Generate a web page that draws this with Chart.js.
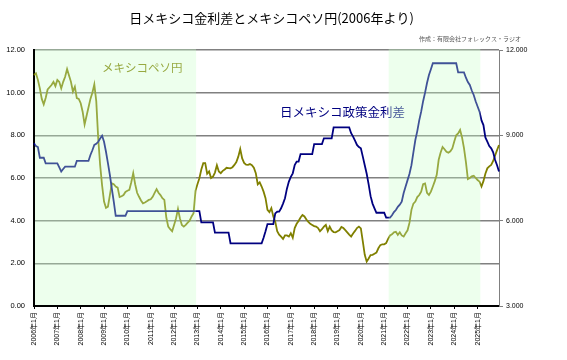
<!DOCTYPE html>
<html><head><meta charset="utf-8">
<script src="https://cdn.jsdelivr.net/npm/chart.js@4"></script>
<style>html,body{margin:0;padding:0;background:#fff}#wrap{width:567px;height:360px}</style>
</head><body><div id="wrap"><canvas id="c" width="567" height="360"></canvas></div>
<script>
const years = [2006,2007,2008,2009,2010,2011,2012,2013,2014,2015,2016,2017,2018,2019,2020,2021,2022,2023,2024,2025];

// 日メキシコ政策金利差 (%), left axis, monthly from 2006年1月
const rateDiff = [
  7.63,7.5,7.45,6.95,6.95,6.95,6.69,6.69,6.69,6.69,6.69,6.69,
  6.69,6.5,6.3,6.42,6.53,6.53,6.53,6.53,6.53,6.53,6.8,6.8,
  6.8,6.8,6.8,6.8,6.8,7.08,7.3,7.55,7.6,7.7,7.85,7.98,
  7.7,7.23,6.7,6.14,5.5,4.89,4.23,4.23,4.23,4.23,4.23,4.23,
  4.45,4.45,4.45,4.45,4.45,4.45,4.45,4.45,4.45,4.45,4.45,4.45,
  4.45,4.45,4.45,4.45,4.45,4.45,4.45,4.45,4.45,4.45,4.45,4.45,
  4.45,4.45,4.45,4.45,4.45,4.45,4.45,4.45,4.45,4.45,4.45,4.45,
  4.45,4.45,3.92,3.92,3.92,3.92,3.92,3.92,3.92,3.44,3.44,3.44,
  3.44,3.44,3.44,3.44,3.44,2.94,2.94,2.94,2.94,2.94,2.94,2.94,
  2.94,2.94,2.94,2.94,2.94,2.94,2.94,2.94,2.94,2.94,3.2,3.5,
  3.84,3.84,3.84,3.84,4.34,4.42,4.42,4.58,4.8,5.05,5.5,5.83,
  6.05,6.22,6.61,6.77,6.77,7.12,7.12,7.12,7.12,7.12,7.12,7.12,
  7.59,7.59,7.59,7.59,7.59,7.86,7.86,7.86,7.86,7.86,8.37,8.37,
  8.37,8.37,8.37,8.37,8.37,8.37,8.37,8.1,7.94,7.75,7.55,7.45,
  7.39,7.0,6.6,6.2,5.7,5.15,4.8,4.58,4.37,4.37,4.37,4.37,
  4.37,4.14,4.14,4.14,4.25,4.4,4.5,4.65,4.75,4.89,5.3,5.6,
  5.9,6.2,6.6,7.2,7.78,8.2,8.7,9.11,9.6,10.0,10.45,10.83,
  11.1,11.38,11.38,11.38,11.38,11.38,11.38,11.38,11.38,11.38,11.38,11.38,
  11.38,11.38,10.95,10.95,10.95,10.95,10.7,10.5,10.36,10.1,9.89,9.6,
  9.35,9.11,8.7,8.48,7.9,7.7,7.5,7.39,7.2,6.84,6.6,6.3
];

// メキシコペソ円 (円), right axis, monthly from 2006年1月
const pesoYen = [
  11.12,11.18,10.95,10.65,10.28,10.09,10.31,10.61,10.69,10.77,10.88,10.73,
  10.95,10.88,10.65,10.88,11.06,11.33,11.10,10.88,10.54,10.71,10.31,10.28,
  10.13,9.83,9.38,9.68,9.98,10.28,10.50,10.79,10.20,8.90,7.95,7.24,
  6.67,6.45,6.49,6.90,7.31,7.28,7.20,7.16,6.83,6.86,6.90,7.01,
  7.05,7.08,7.35,7.67,7.28,6.98,6.84,6.71,6.61,6.64,6.68,6.73,
  6.75,6.84,6.98,7.11,6.98,6.90,6.79,6.73,6.11,5.79,5.70,5.63,
  5.85,6.08,6.41,6.08,5.85,5.79,5.85,5.93,6.00,6.15,6.26,7.05,
  7.28,7.49,7.80,8.02,8.02,7.65,7.73,7.50,7.55,7.69,7.95,7.73,
  7.67,7.75,7.80,7.86,7.85,7.84,7.88,7.96,8.06,8.25,8.52,8.19,
  8.03,7.97,7.96,7.99,7.95,7.86,7.67,7.28,7.35,7.20,7.02,6.79,
  6.38,6.30,6.44,6.15,5.96,5.63,5.51,5.44,5.36,5.48,5.48,5.44,
  5.56,5.40,5.74,5.89,5.99,6.11,6.20,6.15,6.04,5.96,5.89,5.85,
  5.81,5.79,5.74,5.63,5.70,5.79,5.85,5.63,5.79,5.66,5.60,5.59,
  5.63,5.67,5.78,5.74,5.67,5.59,5.51,5.44,5.55,5.64,5.74,5.79,
  5.73,5.27,4.80,4.56,4.67,4.79,4.80,4.84,4.88,5.03,5.14,5.17,
  5.17,5.21,5.36,5.48,5.52,5.59,5.61,5.50,5.59,5.48,5.44,5.56,
  5.66,5.93,6.38,6.60,6.67,6.83,6.90,7.02,7.28,7.31,6.98,6.90,
  7.02,7.20,7.39,7.61,8.14,8.40,8.59,8.51,8.42,8.39,8.44,8.54,
  8.78,9.00,9.07,9.19,8.93,8.55,8.06,7.46,7.50,7.56,7.58,7.50,
  7.43,7.37,7.20,7.39,7.65,7.84,7.91,7.96,8.10,8.29,8.48,8.66
];

// shaded periods, as month-index ranges on the category axis
const shadeRanges = [[0, 83.3], [182.3, 229.4]];

const titleText = '日メキシコ金利差とメキシコペソ円(2006年より)';
const creditText = '作成：有限会社フォレックス・ラジオ';
const rateLabel = '日メキシコ政策金利差';
const pesoLabel = 'メキシコペソ円';

const labels = [];
years.forEach(y => { for (let m = 1; m <= 12; m++) labels.push(y + '年' + m + '月'); });

const JP = '"Noto Sans CJK JP", sans-serif';
const NUM = '"Liberation Sans", "Noto Sans CJK JP", sans-serif';

const decor = {
  id: 'decor',
  afterDatasetsDraw(chart) {
    const ctx = chart.ctx, a = chart.chartArea, x = chart.scales.x, y = chart.scales.y;
    ctx.save();
    // in-plot labels
    ctx.textBaseline = 'middle';
    ctx.textAlign = 'left';
    ctx.fillStyle = '#808000';
    ctx.font = '11.5px ' + JP;
    ctx.fillText(pesoLabel, x.getPixelForValue(35), y.getPixelForValue(11.16));
    ctx.fillStyle = '#000080';
    ctx.font = '12.5px ' + JP;
    ctx.fillText(rateLabel, x.getPixelForValue(126.5), y.getPixelForValue(9.07));
    // translucent green shading over everything in the plot
    ctx.fillStyle = 'rgba(200,255,200,0.32)';
    shadeRanges.forEach(r => {
      const x0 = Math.max(x.getPixelForValue(r[0]), a.left + 1);
      const x1 = x.getPixelForValue(r[1]);
      ctx.fillRect(x0, a.top - 1, x1 - x0, a.bottom - a.top);
    });
    ctx.restore();
  },
  afterDraw(chart) {
    const ctx = chart.ctx, a = chart.chartArea;
    ctx.save();
    ctx.fillStyle = '#000';
    ctx.textAlign = 'center';
    ctx.textBaseline = 'middle';
    ctx.font = '13px ' + JP;
    ctx.fillText(titleText, (a.left + a.right) / 2 + 5, 18);
    ctx.fillStyle = '#555';
    ctx.textAlign = 'right';
    ctx.font = '6px ' + JP;
    ctx.fillText(creditText, 521, 39);
    ctx.restore();
  }
};

new Chart(document.getElementById('c'), {
  type: 'line',
  data: {
    labels,
    datasets: [
      { label: rateLabel, data: rateDiff, yAxisID: 'y', borderColor: '#000080', borderWidth: 1.8, pointRadius: 0, tension: 0, fill: false },
      { label: pesoLabel, data: pesoYen, yAxisID: 'y2', borderColor: '#808000', borderWidth: 1.8, pointRadius: 0, tension: 0, fill: false }
    ]
  },
  options: {
    responsive: false, animation: false, devicePixelRatio: 1,
    layout: { padding: { top: 50, left: 0, right: 0, bottom: 0 } },
    plugins: { legend: { display: false }, tooltip: { enabled: false }, title: { display: false } },
    scales: {
      x: {
        type: 'category', offset: false,
        grid: { display: true, drawOnChartArea: false, tickLength: 3, color: '#000', lineWidth: 1 },
        border: { display: true, color: '#000', width: 2 },
        ticks: {
          autoSkip: false, minRotation: 90, maxRotation: 90, padding: 3,
          font: { family: NUM, size: 7 }, color: '#000',
          callback: function (v, i) { return i % 12 === 0 ? this.getLabelForValue(v) : null; }
        },
        afterFit: s => { s.height = 54; }
      },
      y: {
        position: 'left', min: 0, max: 12,
        ticks: { stepSize: 2, padding: 9, font: { family: NUM, size: 7.5 }, color: '#000', callback: v => v.toFixed(2) },
        grid: { color: '#808080', lineWidth: 1.5, drawTicks: false },
        border: { color: '#000', width: 2 },
        afterFit: s => { s.width = 34; }
      },
      y2: {
        position: 'right', min: 3, max: 12,
        ticks: { stepSize: 3, padding: 3, font: { family: NUM, size: 7 }, color: '#000', callback: v => v.toFixed(3) },
        grid: { drawOnChartArea: false, tickLength: 4, color: '#808080' },
        border: { color: '#808080', width: 1 },
        afterFit: s => { s.width = 68; }
      }
    }
  },
  plugins: [decor]
});
</script>
</body></html>
